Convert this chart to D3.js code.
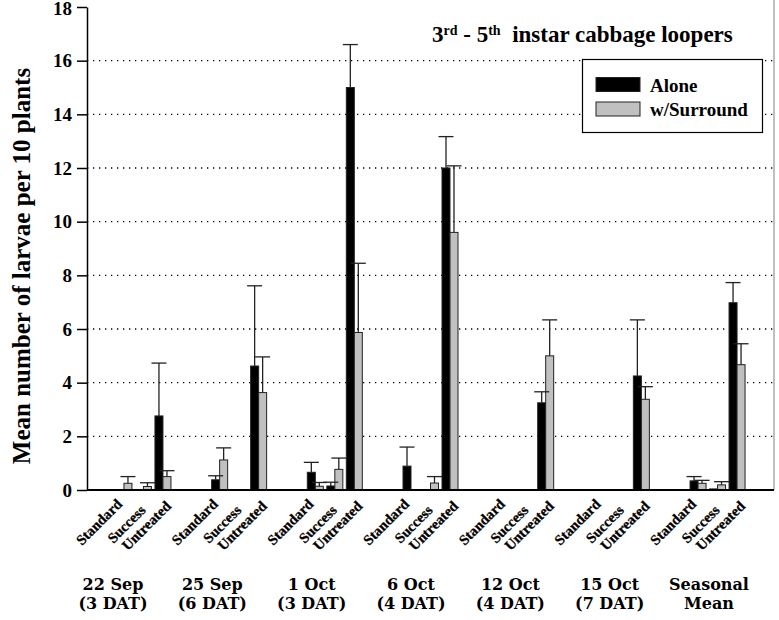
<!DOCTYPE html>
<html>
<head>
<meta charset="utf-8">
<script src="https://cdn.jsdelivr.net/npm/d3@7"></script>
<style>
  body { margin: 0; background: #fff; }
  text { font-family: "Liberation Serif", "Times New Roman", serif; font-weight: bold; }
</style>
</head>
<body>
<svg width="779" height="620"></svg>
<script>
// data
var groupLine1 = ["22 Sep", "25 Sep", "1 Oct", "6 Oct", "12 Oct", "15 Oct", "Seasonal"];
var groupLine2 = ["(3 DAT)", "(6 DAT)", "(3 DAT)", "(4 DAT)", "(4 DAT)", "(7 DAT)", "Mean"];
var treatments = ["Standard", "Success", "Untreated"];
var seriesNames = ["Alone", "w/Surround"];

// mean per group, order Standard, Success, Untreated
var alone = [
  [0, 0, 2.76], [0.38, 0, 4.62], [0.66, 0.15, 15.0], [0.89, 0, 12.0],
  [0, 0, 3.25], [0, 0, 4.25], [0.34, 0.04, 6.98]
];
var aloneErr = [
  [0, 0, 1.97], [0.15, 0, 2.99], [0.37, 0.14, 1.6], [0.71, 0, 1.17],
  [0, 0, 0.41], [0, 0, 2.09], [0.16, 0, 0.75]
];
var surround = [
  [0.25, 0.13, 0.5], [1.12, 0, 3.63], [0.14, 0.77, 5.87], [0, 0.26, 9.6],
  [0, 0, 5.0], [0, 0, 3.38], [0.25, 0.19, 4.67]
];
var surroundErr = [
  [0.25, 0.14, 0.22], [0.45, 0, 1.33], [0.14, 0.42, 2.58], [0, 0.24, 2.48],
  [0, 0, 1.34], [0, 0, 0.47], [0.11, 0.12, 0.78]
];
var yTicks = [0, 2, 4, 6, 8, 10, 12, 14, 16, 18];

var svg = d3.select("svg");
var mLeft = 87, mRight = 774, mTop = 7, mBottom = 490;
var barW = 8;
var colors = {"Alone": "#000", "w/Surround": "#c0c0c0"};

var y = d3.scaleLinear().domain([0, 18]).range([mBottom, mTop]);
var x0 = d3.scaleBand().domain(d3.range(groupLine1.length))
    .range([mLeft, mRight]).paddingOuter(0.09);
var x1 = d3.scalePoint().domain(treatments).range([-19.5, 19.5]);
var xLab = d3.scalePoint().domain(d3.range(groupLine1.length)).range([113, 709]);

// flat table of bars
var bars = [];
groupLine1.forEach(function(g, gi) {
  treatments.forEach(function(t, ti) {
    bars.push({g: gi, t: t, s: "Alone", v: alone[gi][ti], e: aloneErr[gi][ti], off: -barW});
    bars.push({g: gi, t: t, s: "w/Surround", v: surround[gi][ti], e: surroundErr[gi][ti], off: 0});
  });
});
function bx(d) { return x0(d.g) + x0.bandwidth() / 2 + x1(d.t) + d.off; }

// dotted grid
svg.append("g").selectAll("line")
  .data(yTicks.filter(function(d) { return d > 0 && d < 18; }))
  .enter().append("line")
  .attr("x1", mLeft).attr("x2", mRight)
  .attr("y1", function(d) { return y(d); }).attr("y2", function(d) { return y(d); })
  .attr("stroke", "#000").attr("stroke-width", 1.3)
  .attr("stroke-dasharray", "1.3,4.7");

// right frame
svg.append("line")
  .attr("x1", mRight).attr("x2", mRight).attr("y1", 0).attr("y2", mBottom)
  .attr("stroke", "#aaa").attr("stroke-width", 1.5);

// bars
svg.append("g").selectAll("rect")
  .data(bars.filter(function(d) { return d.v > 0; }))
  .enter().append("rect")
  .attr("x", bx)
  .attr("y", function(d) { return y(d.v); })
  .attr("width", barW)
  .attr("height", function(d) { return mBottom - y(d.v); })
  .attr("fill", function(d) { return colors[d.s]; })
  .attr("stroke", "#222").attr("stroke-width", 1);

// error bars
var eb = svg.append("g").selectAll("g")
  .data(bars.filter(function(d) { return d.e > 0; }))
  .enter().append("g")
  .attr("stroke", "#222").attr("stroke-width", 1.3);
eb.append("line")
  .attr("x1", function(d) { return bx(d) + barW / 2; })
  .attr("x2", function(d) { return bx(d) + barW / 2; })
  .attr("y1", function(d) { return y(d.v); })
  .attr("y2", function(d) { return y(d.v + d.e); });
eb.append("line")
  .attr("x1", function(d) { return bx(d) + barW / 2 - 7.5; })
  .attr("x2", function(d) { return bx(d) + barW / 2 + 7.5; })
  .attr("y1", function(d) { return y(d.v + d.e); })
  .attr("y2", function(d) { return y(d.v + d.e); });

// axes
var yAxis = svg.append("g")
  .attr("transform", "translate(" + mLeft + ",0)")
  .call(d3.axisLeft(y).tickValues(yTicks).tickSize(10).tickPadding(5).tickSizeOuter(0));
yAxis.select(".domain").attr("stroke-width", 1.5);
yAxis.selectAll(".tick line").attr("stroke-width", 1.5);
yAxis.selectAll("text").style("font-size", "19px")
  .style("font-family", "'Liberation Serif', serif").style("font-weight", "bold")
  .attr("dy", function(d) { return d === 18 ? "0.38em" : "0.32em"; });

svg.append("line")
  .attr("x1", mLeft).attr("x2", mRight).attr("y1", mBottom).attr("y2", mBottom)
  .attr("stroke", "#000").attr("stroke-width", 1.8);

// treatment labels
var labDx = {"Standard": -1, "Success": 3, "Untreated": 9};
var labY = {"Standard": 505, "Success": 511, "Untreated": 507};
groupLine1.forEach(function(g, gi) {
  svg.append("g").selectAll("text")
    .data(treatments).enter().append("text")
    .attr("transform", function(t) {
      var px = x0(gi) + x0.bandwidth() / 2 + x1(t) + labDx[t];
      return "translate(" + px + "," + labY[t] + ") rotate(-45)";
    })
    .attr("text-anchor", "end")
    .style("font-size", "14.5px")
    .style("stroke", "#000").style("stroke-width", 0.3)
    .text(function(t) { return t; });
});

// group labels
var serifWide = "'DejaVu Serif', serif";
svg.append("g").selectAll("text")
  .data(groupLine1).enter().append("text")
  .attr("x", function(d, i) { return xLab(i); }).attr("y", 590)
  .attr("text-anchor", "middle")
  .style("font-family", serifWide).style("font-size", "16px")
  .text(function(d) { return d; });
svg.append("g").selectAll("text")
  .data(groupLine2).enter().append("text")
  .attr("x", function(d, i) { return xLab(i); }).attr("y", 609)
  .attr("text-anchor", "middle")
  .style("font-family", serifWide).style("font-size", "16px")
  .text(function(d) { return d; });

// y title
svg.append("text")
  .attr("transform", "translate(30,266) rotate(-90)")
  .attr("text-anchor", "middle").style("font-size", "25px")
  .text("Mean number of larvae per 10 plants");

// chart title
var title = svg.append("text").attr("x", 432).attr("y", 42).style("font-size", "23px");
title.append("tspan").text("3");
title.append("tspan").attr("baseline-shift", "super").style("font-size", "14px").text("rd");
title.append("tspan").text(" - 5");
title.append("tspan").attr("baseline-shift", "super").style("font-size", "14px").text("th");
title.append("tspan").text("\u00a0 instar cabbage loopers");

// legend
var lg = svg.append("g");
lg.append("rect").attr("x", 582.5).attr("y", 59.5).attr("width", 180).attr("height", 73)
  .attr("fill", "#fff").attr("stroke", "#000").attr("stroke-width", 1.2);
var li = lg.selectAll(".li").data(seriesNames).enter().append("g")
  .attr("transform", function(d, i) { return "translate(596," + (77.5 + i * 24.5) + ")"; });
li.append("rect").attr("width", 44).attr("height", 14)
  .attr("fill", function(d) { return colors[d]; })
  .attr("stroke", "#222").attr("stroke-width", 1);
li.append("text").attr("x", 54).attr("y", 14).style("font-size", "19px")
  .text(function(d) { return d; });
</script>
</body>
</html>
